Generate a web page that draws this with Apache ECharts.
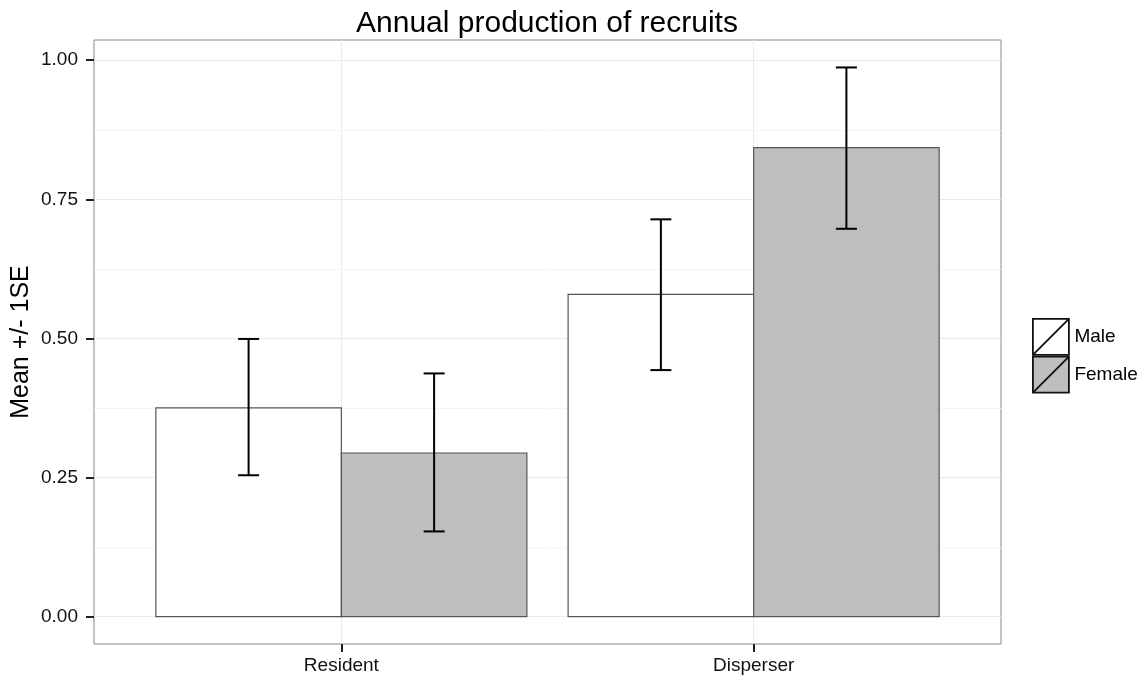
<!DOCTYPE html>
<html>
<head>
<meta charset="utf-8">
<script src="https://cdn.jsdelivr.net/npm/echarts@6/dist/echarts.min.js"></script>
<style>
  html, body { margin: 0; padding: 0; background: #fff; }
  #chart { width: 1147px; height: 684px; }
</style>
</head>
<body>
<div id="chart"></div>
<script>
// Groups along the x axis and the two sexes
const categories = ['Resident', 'Disperser'];
const groups = ['Male', 'Female'];

// Mean annual recruits and the ±1 SE bounds per group
const maleMean = [0.375, 0.579];
const maleLower = [0.254, 0.443];
const maleUpper = [0.499, 0.714];
const femaleMean = [0.294, 0.843];
const femaleLower = [0.153, 0.697];
const femaleUpper = [0.437, 0.987];

// Axis ticks
const yTicks = [0, 0.25, 0.5, 0.75, 1];
const yMinorTicks = [0.125, 0.375, 0.625, 0.875];
const xTicks = [1, 2];

const FONT = 'Liberation Sans, Arial, sans-serif';
const DODGE = 0.45;          // width of one bar in category units
const CAP_HALF = 10.5;       // half width of the error bar caps, px

// y range padded 5% around the data span (0 .. highest upper bound)
const allUpper = maleUpper.concat(femaleUpper);
const yTop = Math.max.apply(null, allUpper);
const yPad = yTop * 0.05;
const yMin = -yPad;
const yMax = yTop + yPad;

function rows(mean, lower, upper, offset) {
  return categories.map((c, i) => [i + 1 + offset, mean[i], lower[i], upper[i]]);
}

function renderBar(fill) {
  return function (params, api) {
    const x = api.value(0);
    const mean = api.value(1);
    const lo = api.value(2);
    const hi = api.value(3);
    const topLeft = api.coord([x - DODGE / 2, mean]);
    const bottomRight = api.coord([x + DODGE / 2, 0]);
    const cTop = api.coord([x, hi]);
    const cBot = api.coord([x, lo]);
    const errStyle = { stroke: '#000', lineWidth: 2, fill: null };
    return {
      type: 'group',
      children: [
        {
          type: 'rect',
          shape: {
            x: topLeft[0], y: topLeft[1],
            width: bottomRight[0] - topLeft[0],
            height: bottomRight[1] - topLeft[1]
          },
          style: { fill: fill, stroke: '#555', lineWidth: 1.2 }
        },
        {
          type: 'line',
          shape: { x1: cTop[0], y1: cTop[1], x2: cBot[0], y2: cBot[1] },
          style: errStyle
        },
        {
          type: 'line',
          shape: { x1: cTop[0] - CAP_HALF, y1: cTop[1], x2: cTop[0] + CAP_HALF, y2: cTop[1] },
          style: errStyle
        },
        {
          type: 'line',
          shape: { x1: cBot[0] - CAP_HALF, y1: cBot[1], x2: cBot[0] + CAP_HALF, y2: cBot[1] },
          style: errStyle
        }
      ]
    };
  };
}

const chart = echarts.init(document.getElementById('chart'), null, { renderer: 'canvas' });

chart.setOption({
  animation: false,
  backgroundColor: '#fff',
  textStyle: { fontFamily: FONT },
  title: {
    text: 'Annual production of recruits',
    left: 542,
    textAlign: 'center',
    top: 4,
    textStyle: { fontFamily: FONT, fontSize: 30, fontWeight: 'normal', color: '#000' }
  },
  legend: {
    orient: 'vertical',
    left: 1032,
    top: 318,
    padding: 0,
    itemWidth: 37,
    itemHeight: 36,
    itemGap: 0,
    selectedMode: false,
    data: groups.map(g => ({
      name: g,
      icon: 'path://M0,0L10,0L10,10L0,10Z M0,10L10,0'
    })),
    itemStyle: { borderColor: '#111', borderWidth: 1.8 },
    textStyle: { fontFamily: FONT, fontSize: 19, color: '#000', padding: [0, 0, 0, 0] }
  },
  grid: {
    left: 94, right: 146, top: 40, bottom: 40,
    outerBoundsMode: 'none',
    containLabel: false,
    show: true,
    borderColor: '#888',
    borderWidth: 1,
    backgroundColor: 'transparent'
  },
  xAxis: {
    type: 'value',
    min: 0.4,
    max: 2.6,
    axisLine: { show: false, onZero: false },
    axisTick: {
      show: true, inside: false, length: 8, customValues: xTicks,
      lineStyle: { color: '#222', width: 2 }
    },
    axisLabel: {
      customValues: xTicks,
      margin: 12,
      fontFamily: FONT, fontSize: 19, color: '#111',
      formatter: v => categories[Math.round(v) - 1] || ''
    },
    splitLine: { show: true, lineStyle: { color: '#ebebeb', width: 1 } }
  },
  yAxis: [
    {
      type: 'value',
      min: yMin,
      max: yMax,
      name: 'Mean +/- 1SE',
      nameLocation: 'middle',
      nameGap: 60,
      nameMoveOverlap: false,
      nameTextStyle: { fontFamily: FONT, fontSize: 25, color: '#000' },
      axisLine: { show: false, onZero: false },
      axisTick: {
        show: true, inside: false, length: 8, customValues: yTicks,
        lineStyle: { color: '#222', width: 2 }
      },
      axisLabel: {
        customValues: yTicks,
        margin: 16,
        fontFamily: FONT, fontSize: 19, color: '#111',
        formatter: v => v.toFixed(2)
      },
      splitLine: { show: true, lineStyle: { color: '#ebebeb', width: 1 } },
      z: 1
    },
    {
      type: 'value',
      min: yMin,
      max: yMax,
      position: 'left',
      axisLine: { show: false, onZero: false },
      axisTick: { show: false, customValues: yMinorTicks },
      axisLabel: { show: false, customValues: yMinorTicks },
      splitLine: { show: true, lineStyle: { color: '#f5f5f5', width: 1 } },
      z: 0
    }
  ],
  series: [
    {
      name: 'Male',
      type: 'custom',
      xAxisIndex: 0,
      yAxisIndex: 0,
      itemStyle: { color: '#ffffff', borderColor: '#111', borderWidth: 1.8 },
      encode: { x: 0, y: [1, 2, 3] },
      data: rows(maleMean, maleLower, maleUpper, -DODGE / 2),
      renderItem: renderBar('#ffffff'),
      silent: true
    },
    {
      name: 'Female',
      type: 'custom',
      xAxisIndex: 0,
      yAxisIndex: 0,
      itemStyle: { color: '#bebebe', borderColor: '#111', borderWidth: 1.8 },
      encode: { x: 0, y: [1, 2, 3] },
      data: rows(femaleMean, femaleLower, femaleUpper, DODGE / 2),
      renderItem: renderBar('#bebebe'),
      silent: true
    }
  ]
});
</script>
</body>
</html>
